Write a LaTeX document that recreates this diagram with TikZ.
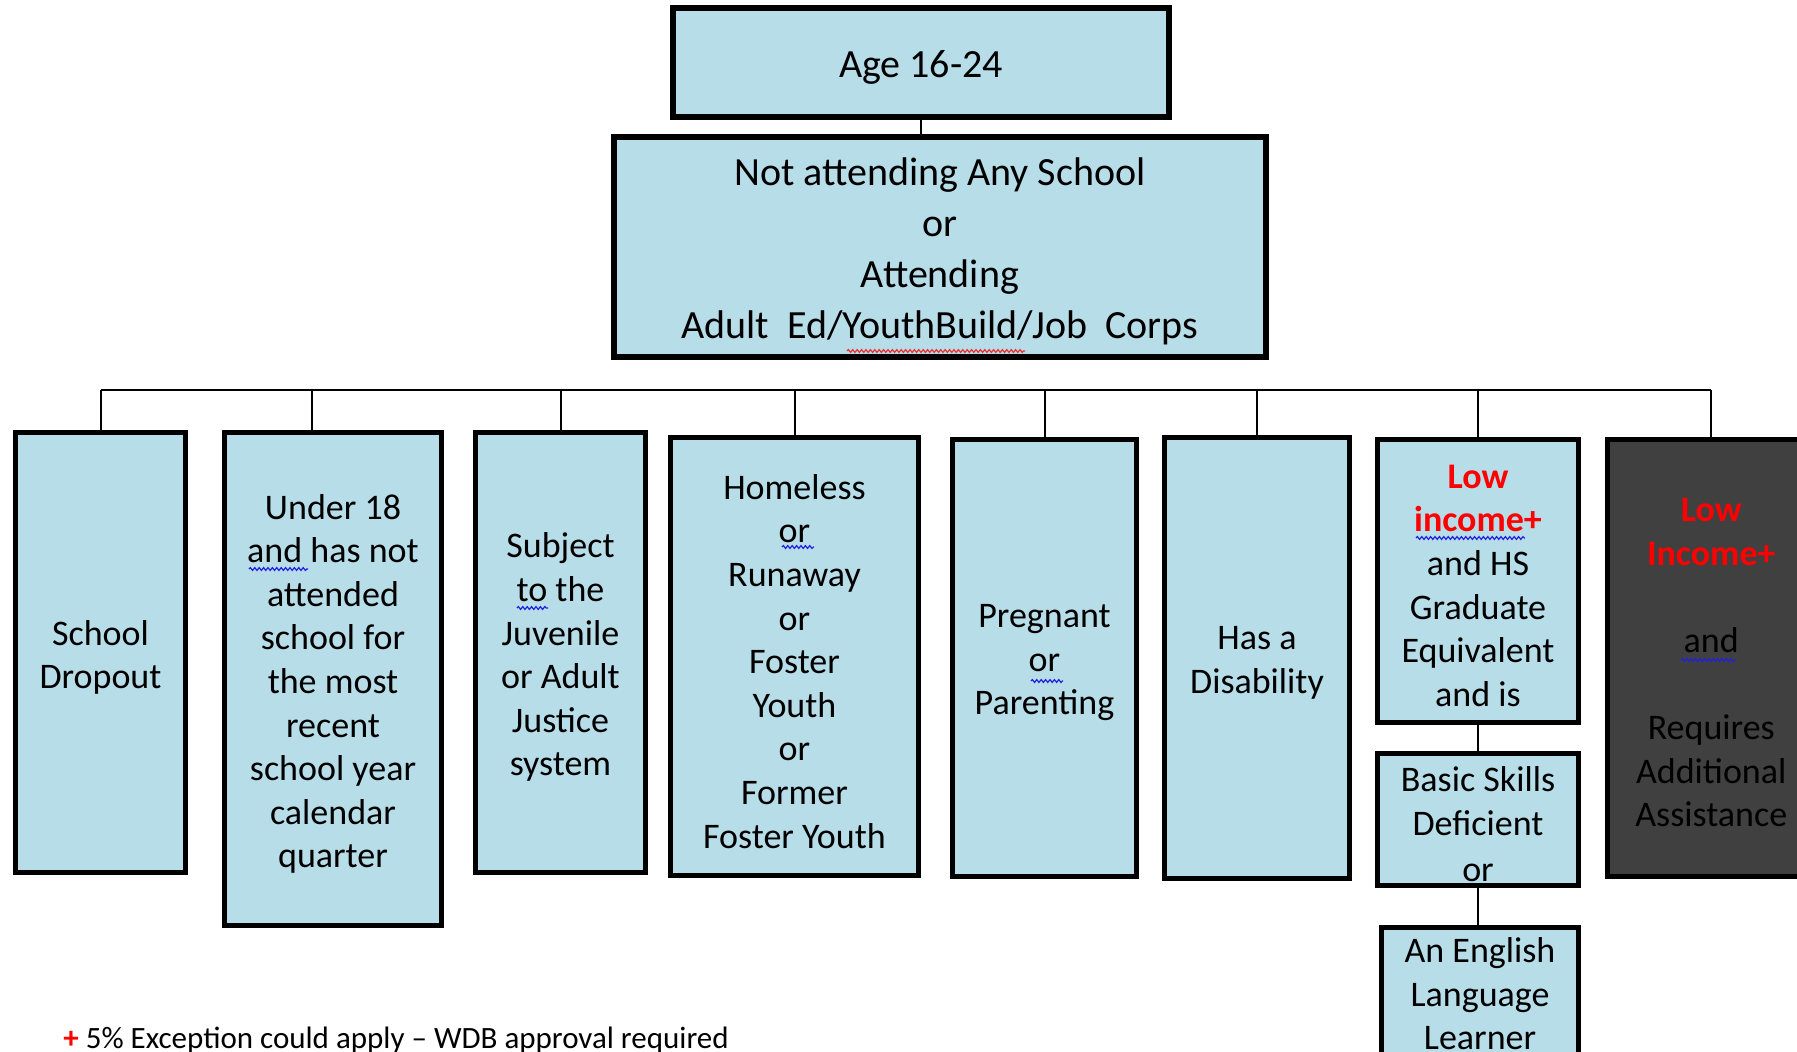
\documentclass[tikz,border=0pt]{standalone}
\usepackage{fontspec}
\setmainfont{Carlito}
\usetikzlibrary{decorations.pathmorphing}
\definecolor{boxblue}{HTML}{B7DDE8}
\definecolor{boxdark}{HTML}{404040}
\definecolor{sqblue}{HTML}{2020E0}
\definecolor{sqred}{HTML}{F03030}
\tikzset{
  cell/.style={draw=black, line width=2.6pt, fill=boxblue, inner sep=0pt},
  darkcell/.style={cell, fill=boxdark},
  topcell/.style={cell, line width=3.4pt},
  celltext/.style={inner sep=0pt, align=center, font=\fontsize{18}{21.8}\selectfont},
  toptext/.style={celltext, font=\fontsize{20}{25.5}\selectfont},
  conn/.style={draw=black, line width=1pt},
  squig/.style={line width=0.6pt, decorate, decoration={snake, segment length=2.2pt, amplitude=0.7pt}},
}
% style, x1, y1, x2, y2, name, text style, text
\newcommand\boxat[8]{%
  \node[#1, minimum width={(#4-#2)*0.5pt}, minimum height={(#5-#3)*0.5pt}] (#6) at ({(#2+#4)/2},{(#3+#5)/2}) {};
  \node[#7, yshift=-2.4pt] (#6-t) at (#6.center) {#8};}
\begin{document}
\begin{tikzpicture}[x=0.5pt,y=-0.5pt]
\useasboundingbox (0,0) rectangle (1797,1051);
\begin{scope}
\clip (0,0) rectangle (1797,1051);
\fill[white] (0,0) rectangle (1797,1051);
% top boxes
\boxat{topcell}{673}{8}{1169}{117}{age}{toptext}{Age 16-24}
\boxat{topcell}{614}{137}{1266}{357}{na}{toptext}{Not attending Any School\\ or\\ Attending\\ Adult\ \ Ed/YouthBuild/Job\ \ Corps}
% row boxes
\boxat{cell}{15.5}{432.5}{185.5}{872.5}{sd}{celltext}{School\\ Dropout}
\boxat{cell}{224.5}{432.5}{441.5}{925.5}{u18}{celltext}{Under 18\\ and has not\\ attended\\ school for\\ the most\\ recent\\ school year\\ calendar\\ quarter}
\boxat{cell}{475.5}{432.5}{645.5}{872.5}{sub}{celltext}{Subject\\ to the\\ Juvenile\\ or Adult\\ Justice\\ system}
\boxat{cell}{670.5}{437.5}{918.5}{875.5}{hom}{celltext}{Homeless\\ or\\ Runaway\\ or\\ Foster\\ Youth\\ or\\ Former\\ Foster Youth}
\boxat{cell}{952.5}{439.5}{1136.5}{876.5}{preg}{celltext}{Pregnant\\ or\\ Parenting}
\boxat{cell}{1164.5}{437.5}{1349.5}{878.5}{dis}{celltext}{Has a\\ Disability}
\boxat{cell}{1377.5}{439.5}{1578.5}{722.5}{low}{celltext}{\textcolor{red}{\bfseries Low}\\ \textcolor{red}{\bfseries income+}\\ and HS\\ Graduate\\ Equivalent\\ and is}
\boxat{cell}{1377.5}{753.5}{1578.5}{885.5}{bsd}{celltext}{Basic Skills\\ Deficient\\[1.5pt] or}
\node[cell, minimum width={197*0.5pt}, minimum height={182.5*0.5pt}] (eng) at (1480,1018.75) {};
\node[celltext, anchor=north] (eng-t) at (1480,937) {An English\\ Language\\ Learner};
\boxat{darkcell}{1607.5}{439.5}{1815}{876.5}{dark}{celltext}{\textcolor{red}{\bfseries Low}\\ \textcolor{red}{\bfseries Income+}\\ ~\\ and\\ ~\\ Requires\\ Additional\\ Assistance}
% connectors
\draw[conn] (age.south) -- (age.south |- na.north);
\coordinate (busl) at (100.5,390);
\coordinate (busr) at (1711.25,390);
\coordinate (d2) at (312,390);
\draw[conn] (busl) -- (busr);
\draw[conn] (busl) -- (sd.north);
\draw[conn] (d2) -- (d2 |- u18.north);
\draw[conn] (sub.north |- busl) -- (sub.north);
\draw[conn] (hom.north |- busl) -- (hom.north);
\draw[conn] (preg.north |- busl) -- (preg.north);
\draw[conn] (dis.north |- busl) -- (dis.north);
\draw[conn] (low.north |- busl) -- (low.north);
\draw[conn] (busr) -- (dark.north);
\draw[conn] (low.south) -- (bsd.north);
\draw[conn] (bsd.south) -- (bsd.south |- eng.north);
% spell-check squiggles
\draw[squig, sqred] (847,351) -- (1025,351);
\draw[squig, sqblue] (249,569) -- (308,569);
\draw[squig, sqblue] (517,608) -- (548,608);
\draw[squig, sqblue] (782,547) -- (814,547);
\draw[squig, sqblue] (1031,681) -- (1063,681);
\draw[squig, sqblue] (1416,538) -- (1525,538);
\draw[squig, sqblue] (1681,660) -- (1736,660);
% footnote
\node[anchor=base west, inner sep=0pt, font=\fontsize{15.5}{18}\selectfont] (note) at (63,1048) {\textcolor{red}{\bfseries +}\ 5\% Exception could apply – WDB approval required};
\end{scope}
\end{tikzpicture}
\end{document}
